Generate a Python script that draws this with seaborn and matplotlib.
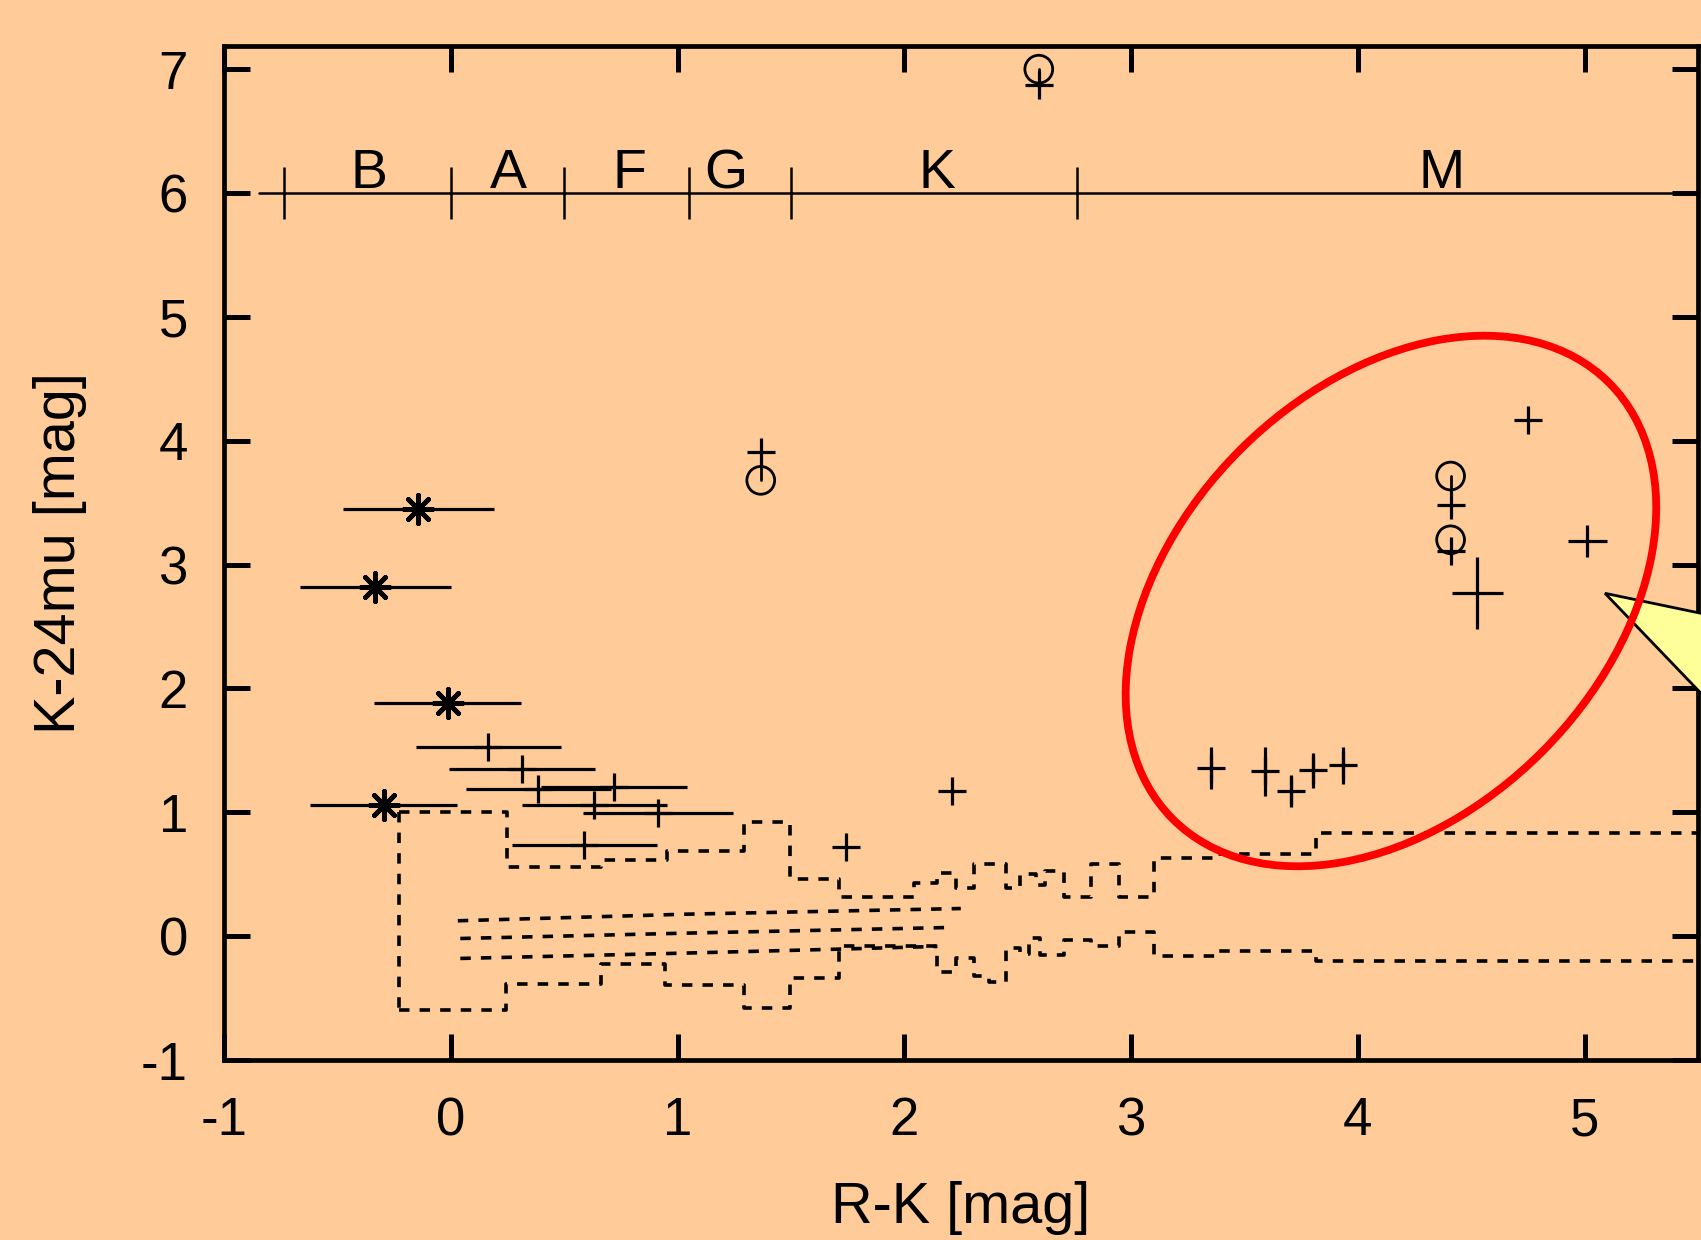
import numpy as np
import pandas as pd
import matplotlib
matplotlib.use("Agg")
import matplotlib.pyplot as plt
import matplotlib.transforms as mtransforms
from matplotlib.patches import Ellipse, Polygon
import seaborn as sns

# ---------------- data ----------------
# asterisks with horizontal error bars
star_x = [-0.144, -0.334, -0.014, -0.296]
star_y = [3.449, 2.820, 1.885, 1.060]
star_xerr = [0.333, 0.333, 0.324, 0.324]

# plus points with horizontal error bars
plus_x = [0.166, 0.314, 0.386, 0.720, 0.633, 0.915, 0.588]
plus_y = [1.530, 1.352, 1.191, 1.204, 1.059, 0.998, 0.736]
plus_xerr = [0.32, 0.32, 0.32, 0.32, 0.32, 0.33, 0.32]

# single plus points
single_x = [1.745, 2.211, 4.749]
single_y = [0.72, 1.17, 4.17]

# plus points with vertical error bars
m_x = [3.352, 3.590, 3.704, 3.802, 3.934]
m_y = [1.36, 1.33, 1.17, 1.34, 1.38]
m_yerr = [0.17, 0.20, 0.13, 0.14, 0.15]

# error crosses
cross_x = [4.527, 5.011]
cross_y = [2.77, 3.19]
cross_xerr = [0.113, 0.086]
cross_yerr = [0.294, 0.13]

# circle + plus pairs joined by a line
pair_x = [2.593, 1.367, 4.409, 4.409]
pair_circle_y = [7.00, 3.68, 3.715, 3.20]
pair_plus_y = [6.87, 3.91, 3.48, 3.11]

# dashed step envelopes
upper_edges = [-0.228, 0.246, 0.662, 0.955, 1.292, 1.495, 1.712, 2.043, 2.146, 2.227,
               2.308, 2.448, 2.51, 2.58, 2.62, 2.705, 2.823, 2.945, 3.102, 3.37, 3.815, 5.5]
upper_levels = [1.0, 0.562, 0.615, 0.688, 0.922, 0.465, 0.32, 0.433, 0.51, 0.385,
                0.58, 0.39, 0.50, 0.41, 0.53, 0.32, 0.58, 0.32, 0.627, 0.66, 0.836]
lower_edges = [-0.228, 0.245, 0.662, 0.943, 1.292, 1.495, 1.712, 2.146, 2.227, 2.308,
               2.374, 2.448, 2.51, 2.55, 2.60, 2.705, 2.823, 2.945, 3.102, 3.37, 3.815, 5.5]
lower_levels = [-0.594, -0.387, -0.226, -0.395, -0.583, -0.341, -0.083, -0.293, -0.177, -0.32,
                -0.374, -0.097, -0.145, -0.019, -0.156, -0.03, -0.083, 0.03, -0.164, -0.118, -0.20]

# three thin dashed tracks
mid1_x = [0.031, 1.03, 2.249]
mid1_y = [0.124, 0.177, 0.223]
mid2_x = [0.042, 1.03, 2.202]
mid2_y = [-0.019, 0.024, 0.070]
mid3_x = [0.042, 1.03, 1.709, 2.146]
mid3_y = [-0.180, -0.137, -0.105, -0.083]

# spectral type bar
sp_level = 6.0
sp_start = -0.847
sp_bounds = [-0.737, 0.0, 0.50, 1.05, 1.50, 2.76]
sp_names = ["B", "A", "F", "G", "K", "M"]
sp_name_x = [-0.362, 0.255, 0.79, 1.215, 2.142, 4.368]

x_ticks = [-1, 0, 1, 2, 3, 4, 5]
y_ticks = [-1, 0, 1, 2, 3, 4, 5, 6, 7]

# ---------------- styling ----------------
BG = "#FFCC99"
sns.set_style("ticks")
plt.rcParams["font.family"] = ["Liberation Sans", "DejaVu Sans"]
plt.rcParams["axes.unicode_minus"] = False
plt.rcParams["text.color"] = "black"
plt.rcParams["axes.labelcolor"] = "black"

W, H, DPI = 17.01, 12.40, 100
fig = plt.figure(figsize=(W, H), dpi=DPI, facecolor=BG)
ax = fig.add_axes([224 / 1701, 1 - 1060 / 1240, (1698 - 224) / 1701, (1060 - 46) / 1240])
ax.set_facecolor(BG)
ax.set_xlim(-1, 5.5)
ax.set_ylim(-1, 7.187)

dash = (0, (2.9, 2.8))
lw_d = 2.6

def steps(edges, levels):
    return list(edges), list(levels) + [levels[-1]]

ux, uy = steps(upper_edges, upper_levels)
lx, ly = steps(lower_edges, lower_levels)
for xs, ys in [(ux, uy), (lx, ly)]:
    sns.lineplot(x=xs, y=ys, ax=ax, color="black", lw=lw_d, linestyle=dash,
                 drawstyle="steps-post", sort=False, estimator=None)
sns.lineplot(x=[upper_edges[0], lower_edges[0]], y=[upper_levels[0], lower_levels[0]],
             ax=ax, color="black", lw=lw_d, linestyle=dash, sort=False, estimator=None)
for xs, ys in [(mid1_x, mid1_y), (mid2_x, mid2_y), (mid3_x, mid3_y)]:
    sns.lineplot(x=xs, y=ys, ax=ax, color="black", lw=lw_d, linestyle=dash,
                 sort=False, estimator=None)

# spectral bar
ax.plot([sp_start, 5.5], [sp_level, sp_level], color="black", lw=1.8, zorder=3)
ax.vlines(sp_bounds, sp_level - 0.21, sp_level + 0.21, color="black", lw=1.8, zorder=3)
for nm, xx in zip(sp_names, sp_name_x):
    ax.text(xx, sp_level + 0.04, nm, ha="center", va="baseline", fontsize=40, color="black")

# error bars
eb = dict(fmt="none", ecolor="black", elinewidth=2.3, capsize=0, zorder=3)
ax.errorbar(star_x, star_y, xerr=star_xerr, **eb)
ax.errorbar(plus_x, plus_y, xerr=plus_xerr, **eb)
ax.errorbar(m_x, m_y, yerr=m_yerr, **eb)
ax.errorbar(cross_x, cross_y, xerr=cross_xerr, yerr=cross_yerr, **eb)

# markers
sns.scatterplot(x=star_x, y=star_y, ax=ax, marker=(8, 2, 0), s=420, color="black",
                linewidth=3.4, zorder=4)
all_plus_x = plus_x + single_x + m_x + pair_x
all_plus_y = plus_y + single_y + m_y + pair_plus_y
sns.scatterplot(x=all_plus_x, y=all_plus_y, ax=ax, marker="+", s=380, color="black",
                linewidth=2.3, zorder=4)
for px, cy, py in zip(pair_x, pair_circle_y, pair_plus_y):
    ax.plot([px, px], [cy, py], color="black", lw=2.0, zorder=3)
ax.scatter(pair_x, pair_circle_y, s=400, facecolors="none", edgecolors="black",
           linewidths=2.0, zorder=4)

# axes look
ax.set_xticks(x_ticks)
ax.set_yticks(y_ticks)
ax.set_xticklabels([str(v) for v in x_ticks])
ax.set_yticklabels([str(v) for v in y_ticks])
ax.tick_params(direction="in", length=18.7, width=3.6, top=True, right=True,
               labelsize=38, pad=26, colors="black")
for s in ax.spines.values():
    s.set_visible(True)
    s.set_linewidth(3.4)
    s.set_color("black")

ax.set_xlabel("R-K [mag]", fontsize=41.5, color="black")
ax.set_ylabel("K-24mu [mag]", fontsize=41.5, color="black")
ax.xaxis.label.set_va("center")
ax.yaxis.label.set_va("center")
ax.xaxis.set_label_coords(0.5, -0.146)
ax.yaxis.set_label_coords(-0.1115, 0.5)

# callout pointer (clipped by the figure edge)
tri = Polygon([[1605 / 1701, 1 - 593.3 / 1240],
               [1770 / 1701, 1 - 627.7 / 1240],
               [1770 / 1701, 1 - 765.2 / 1240]],
              closed=True, transform=fig.transFigure, facecolor="#FFFF99",
              edgecolor="black", lw=2.0, zorder=5, clip_on=False)
ax.add_patch(tri)

# red ellipse (screen-space ellipse centred on a data point)
trans = fig.dpi_scale_trans + mtransforms.ScaledTranslation(4.146, 2.706, ax.transData)
ell = Ellipse((0, 0), 6.17, 4.27, angle=45, transform=trans, fill=False,
              edgecolor="#FF0000", lw=5.6, zorder=6, clip_on=False)
ax.add_patch(ell)

fig.savefig("out.png", dpi=DPI, facecolor=BG)
